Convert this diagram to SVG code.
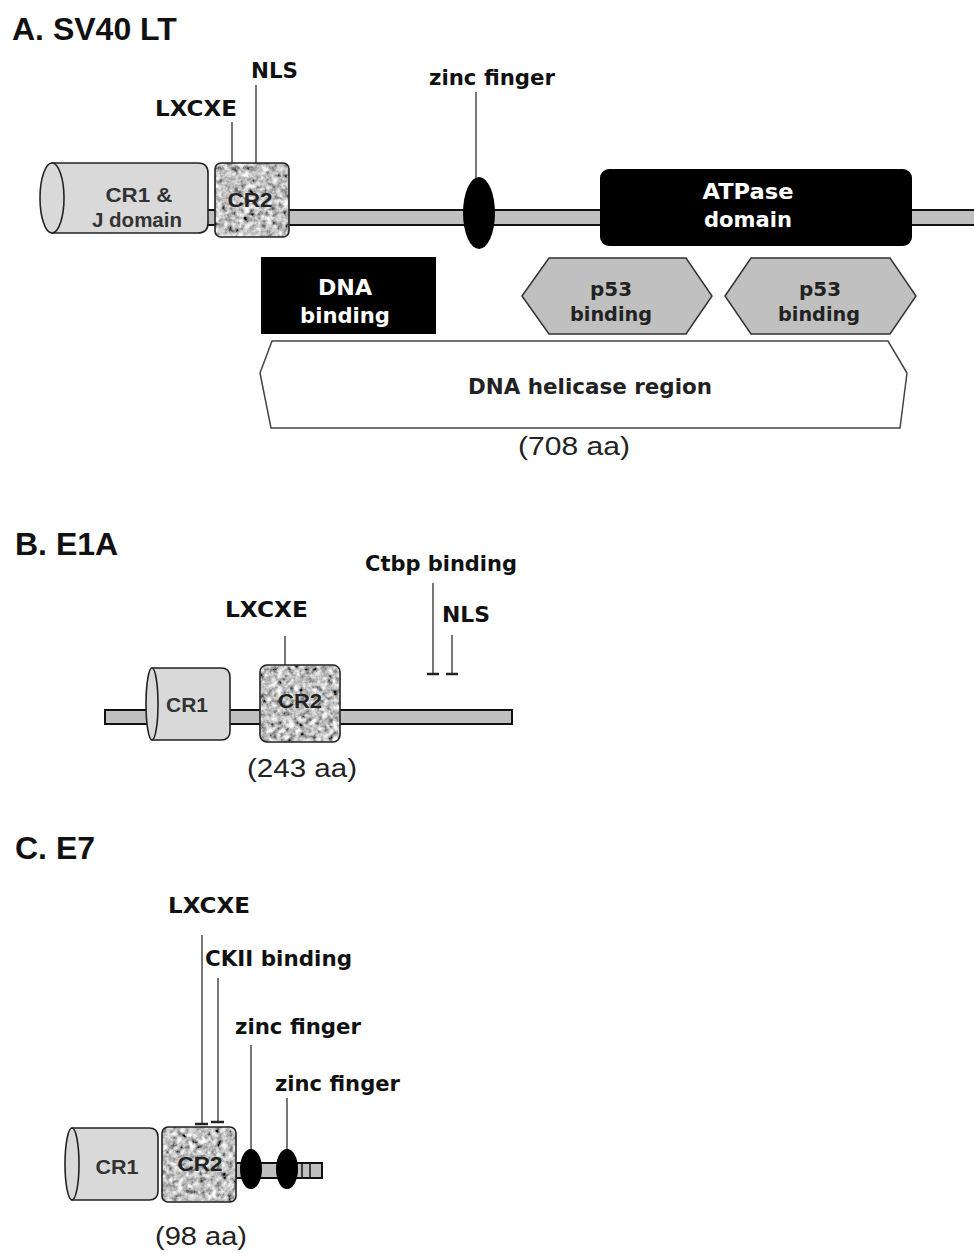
<svg xmlns="http://www.w3.org/2000/svg" width="974" height="1254" viewBox="0 0 974 1254">
<style>
.title{font-family:"Liberation Sans",Arial,sans-serif;font-weight:bold;font-size:32px;fill:#111}
.lab{font-family:"DejaVu Sans","Liberation Sans",sans-serif;font-weight:bold;font-size:22px;fill:#111}
.in{font-family:"Liberation Sans",Arial,sans-serif;font-weight:bold;font-size:21px;fill:#333;text-anchor:middle}
.wt{font-family:"DejaVu Sans","Liberation Sans",sans-serif;font-weight:bold;font-size:22px;fill:#fff;text-anchor:middle}
.gt{font-family:"DejaVu Sans","Liberation Sans",sans-serif;font-weight:bold;font-size:20px;fill:#222;text-anchor:middle}
.aa{font-family:"Liberation Sans",Arial,sans-serif;font-size:26px;fill:#222;text-anchor:middle}
.bb{fill:#c0c0c0;stroke:#111;stroke-width:2}
.cyl{fill:#d9d9d9;stroke:#222;stroke-width:1.6}
.cr2{fill:none;stroke:#222;stroke-width:1.6}
.lead{stroke:#777;stroke-width:2;fill:none}
.tick{stroke:#222;stroke-width:2.5}
.zf{fill:#000}
.hex{fill:#c0c0c0;stroke:#333;stroke-width:1.5}
</style>
<defs>
<filter id="stip" x="0" y="0" width="100%" height="100%">
<feTurbulence type="fractalNoise" baseFrequency="0.18" numOctaves="4" seed="7" result="n"/>
<feColorMatrix in="n" type="matrix" values="0.33 0.33 0.33 0 0 0.33 0.33 0.33 0 0 0.33 0.33 0.33 0 0 0 0 0 0 1" result="g"/>
<feComponentTransfer in="g" result="c">
<feFuncR type="linear" slope="2.8" intercept="-0.85"/>
<feFuncG type="linear" slope="2.8" intercept="-0.85"/>
<feFuncB type="linear" slope="2.8" intercept="-0.85"/>
</feComponentTransfer>
<feComposite in="c" in2="SourceGraphic" operator="in"/>
</filter>
</defs>

<!-- Section A -->
<text class="title" x="12" y="40">A. SV40 LT</text>
<g id="connectors">
<line class="lead" x1="232" y1="122" x2="232" y2="166"/>
<line class="lead" x1="256" y1="85" x2="256" y2="166"/>
<line class="lead" x1="476" y1="92" x2="476" y2="200"/>
<line class="lead" x1="285" y1="636" x2="285" y2="666"/>
<line class="lead" x1="433" y1="583" x2="433" y2="674"/>
<line class="lead" x1="452" y1="635" x2="452" y2="674"/>
<line class="tick" x1="427" y1="674" x2="439" y2="674"/>
<line class="tick" x1="446" y1="674" x2="458" y2="674"/>
<line class="lead" x1="202" y1="935" x2="202" y2="1123"/>
<line class="lead" x1="218" y1="978" x2="218" y2="1121"/>
<line class="tick" x1="195" y1="1124" x2="208" y2="1124"/>
<line class="tick" x1="211" y1="1122" x2="224" y2="1122"/>
<line class="lead" x1="251" y1="1045" x2="251" y2="1152"/>
<line class="lead" x1="287" y1="1098" x2="287" y2="1152"/>
</g>

<g id="a-backbone"><rect class="bb" x="200" y="210" width="790" height="15"/></g>
<g id="a-cr1">
<path class="cyl" d="M52,163 H198 Q208,163 208,173 V223 Q208,233 198,233 H52 Z"/>
<ellipse class="cyl" cx="52" cy="198" rx="12" ry="35"/>
<text class="in" x="139" y="202" textLength="67" lengthAdjust="spacingAndGlyphs">CR1 &amp;</text>
<text class="in" x="137" y="227" textLength="90" lengthAdjust="spacingAndGlyphs">J domain</text>
</g>
<g id="a-cr2">
<rect x="215" y="163" width="74" height="74" rx="6" fill="#8e8e8e"/>
<rect x="215" y="163" width="74" height="74" rx="6" fill="#fff" filter="url(#stip)"/>
<rect class="cr2" x="215" y="163" width="74" height="74" rx="6"/>
<text class="in" x="250" y="207" textLength="45" lengthAdjust="spacingAndGlyphs" style="fill:#222">CR2</text>
</g>
<g id="a-lxcxe"><text class="lab" x="155" y="116" textLength="82" lengthAdjust="spacingAndGlyphs">LXCXE</text></g>
<g id="a-nls"><text class="lab" x="251" y="78" textLength="47" lengthAdjust="spacingAndGlyphs">NLS</text></g>
<g id="a-zinc">
<text class="lab" x="429" y="85" textLength="126" lengthAdjust="spacingAndGlyphs">zinc finger</text>
<ellipse class="zf" cx="479" cy="213" rx="16" ry="36"/>
</g>
<g id="a-atpase">
<rect x="600" y="169" width="312" height="77" rx="9" fill="#000"/>
<text class="wt" x="748" y="199" textLength="91" lengthAdjust="spacingAndGlyphs">ATPase</text>
<text class="wt" x="748" y="227" textLength="88" lengthAdjust="spacingAndGlyphs">domain</text>
</g>
<g id="a-dnabinding">
<rect x="261" y="257" width="175" height="77" fill="#000"/>
<text class="wt" x="345" y="295" textLength="54" lengthAdjust="spacingAndGlyphs">DNA</text>
<text class="wt" x="345" y="323" textLength="90" lengthAdjust="spacingAndGlyphs">binding</text>
</g>
<g id="a-p53-1">
<polygon class="hex" points="522,296 549,258 686,258 712,296 686,334 549,334"/>
<text class="gt" x="611" y="296" textLength="42" lengthAdjust="spacingAndGlyphs">p53</text>
<text class="gt" x="611" y="321" textLength="82" lengthAdjust="spacingAndGlyphs">binding</text>
</g>
<g id="a-p53-2">
<polygon class="hex" points="725,296 751,258 890,258 916,296 890,334 751,334"/>
<text class="gt" x="820" y="296" textLength="42" lengthAdjust="spacingAndGlyphs">p53</text>
<text class="gt" x="819" y="321" textLength="82" lengthAdjust="spacingAndGlyphs">binding</text>
</g>
<g id="a-helicase">
<polygon points="272,341 888,341 907,373 900,428 271,428 260,373" fill="#fff" stroke="#444" stroke-width="1.5"/>
<text x="590" y="394" text-anchor="middle" textLength="244" lengthAdjust="spacingAndGlyphs" style="font-family:'DejaVu Sans','Liberation Sans',sans-serif;font-weight:bold;font-size:22px;fill:#222">DNA helicase region</text>
</g>
<text class="aa" x="574" y="455" textLength="112" lengthAdjust="spacingAndGlyphs">(708 aa)</text>

<!-- Section B -->
<text class="title" x="15" y="555">B. E1A</text>
<g id="b-backbone"><rect class="bb" x="105" y="710" width="407" height="14"/></g>
<g id="b-cr1">
<path class="cyl" d="M152,668 H221 Q230,668 230,677 V731 Q230,740 221,740 H152 Z"/>
<ellipse class="cyl" cx="152" cy="704" rx="6" ry="36"/>
<text class="in" x="187" y="712" textLength="42" lengthAdjust="spacingAndGlyphs">CR1</text>
</g>
<g id="b-cr2">
<rect x="260" y="665" width="80" height="77" rx="7" fill="#8e8e8e"/>
<rect x="260" y="665" width="80" height="77" rx="7" fill="#fff" filter="url(#stip)"/>
<rect class="cr2" x="260" y="665" width="80" height="77" rx="7"/>
<text class="in" x="300" y="708" textLength="44" lengthAdjust="spacingAndGlyphs" style="fill:#222">CR2</text>
</g>
<g id="b-lxcxe"><text class="lab" x="225" y="617" textLength="83" lengthAdjust="spacingAndGlyphs">LXCXE</text></g>
<g id="b-ctbp"><text class="lab" x="365" y="571" textLength="152" lengthAdjust="spacingAndGlyphs">Ctbp binding</text></g>
<g id="b-nls"><text class="lab" x="442" y="622" textLength="48" lengthAdjust="spacingAndGlyphs">NLS</text></g>
<text class="aa" x="302" y="777" textLength="110" lengthAdjust="spacingAndGlyphs">(243 aa)</text>

<!-- Section C -->
<text class="title" x="15" y="859">C. E7</text>
<g id="c-backbone">
<rect class="bb" x="236" y="1163" width="86" height="15"/>
<line x1="302" y1="1163" x2="302" y2="1178" stroke="#111" stroke-width="1.5"/>
<line x1="310" y1="1163" x2="310" y2="1178" stroke="#111" stroke-width="1.5"/>
</g>
<g id="c-cr1">
<path class="cyl" d="M72,1128 H149 Q158,1128 158,1137 V1191 Q158,1200 149,1200 H72 Z"/>
<ellipse class="cyl" cx="72" cy="1164" rx="7" ry="36"/>
<text class="in" x="117" y="1174" textLength="43" lengthAdjust="spacingAndGlyphs">CR1</text>
</g>
<g id="c-cr2">
<rect x="162" y="1127" width="74" height="75" rx="6" fill="#8e8e8e"/>
<rect x="162" y="1127" width="74" height="75" rx="6" fill="#fff" filter="url(#stip)"/>
<rect class="cr2" x="162" y="1127" width="74" height="75" rx="6"/>
<text class="in" x="200" y="1171" textLength="45" lengthAdjust="spacingAndGlyphs" style="fill:#222">CR2</text>
</g>
<g id="c-zinc1"><ellipse class="zf" cx="251" cy="1169" rx="11" ry="20"/>
<text class="lab" x="235" y="1034" textLength="126" lengthAdjust="spacingAndGlyphs">zinc finger</text></g>
<g id="c-zinc2"><ellipse class="zf" cx="287" cy="1169" rx="11" ry="20"/>
<text class="lab" x="275" y="1091" textLength="125" lengthAdjust="spacingAndGlyphs">zinc finger</text></g>
<g id="c-lxcxe"><text class="lab" x="168" y="913" textLength="82" lengthAdjust="spacingAndGlyphs">LXCXE</text></g>
<g id="c-ckii"><text class="lab" x="205" y="966" textLength="147" lengthAdjust="spacingAndGlyphs">CKII binding</text></g>
<text class="aa" x="201" y="1245" textLength="92" lengthAdjust="spacingAndGlyphs">(98 aa)</text>
</svg>
